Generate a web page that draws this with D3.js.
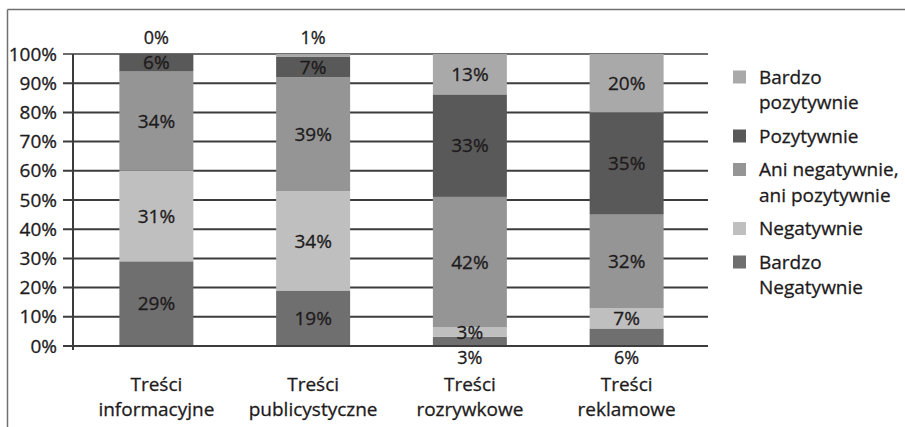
<!DOCTYPE html>
<html>
<head>
<meta charset="utf-8">
<script src="https://cdn.jsdelivr.net/npm/d3@7"></script>
<style>
  html, body { margin: 0; padding: 0; background: #fff; }
  svg { display: block; font-family: "Open Sans", "Noto Sans", sans-serif; }
  text { stroke: #1e1b1c; stroke-width: 0.3px; }
</style>
</head>
<body>
<svg id="chart" width="905" height="427"></svg>
<script>
// Categories (x axis) and series, bottom of the stack first
const categories = ["Treści informacyjne", "Treści publicystyczne", "Treści rozrywkowe", "Treści reklamowe"];
const seriesNames = ["Bardzo\nNegatywnie", "Negatywnie", "Ani negatywnie,\nani pozytywnie", "Pozytywnie", "Bardzo\npozytywnie"];
const seriesColors = ["#6f6f6f", "#bfbfbf", "#959595", "#595959", "#a9a9a9"];

// Shares in percent per category
const bardzoNegatywnie = [29, 19, 3, 6];
const negatywnie       = [31, 34, 3, 7];
const aniAni           = [34, 39, 42, 32];
const pozytywnie       = [6, 7, 33, 35];
const bardzoPozytywnie = [0, 1, 13, 20];

const yTicks = [0, 0.1, 0.2, 0.3, 0.4, 0.5, 0.6, 0.7, 0.8, 0.9, 1];

const seriesValues = [bardzoNegatywnie, negatywnie, aniAni, pozytywnie, bardzoPozytywnie];
const keys = seriesNames.map((_, i) => "s" + i);
const rows = categories.map((c, ci) => {
  const r = { category: c };
  keys.forEach((k, si) => { r[k] = seriesValues[si][ci]; });
  return r;
});

const svg = d3.select("#chart");
const textColor = "#1e1b1c";

// Outer frame (top and left edges)
svg.append("line").attr("x1", 7.5).attr("x2", 905).attr("y1", 9.5).attr("y2", 9.5)
  .attr("stroke", "#707070").attr("stroke-width", 1.5);
svg.append("line").attr("x1", 7.5).attr("x2", 7.5).attr("y1", 9.5).attr("y2", 427)
  .attr("stroke", "#707070").attr("stroke-width", 1.5);

const x = d3.scaleBand().domain(categories).range([78, 705]).paddingInner(0.528).paddingOuter(0.264);
const y = d3.scaleLinear().domain([0, 1]).range([346, 54]);

// Gridlines with left ticks
const grid = svg.append("g");
grid.selectAll("line").data(yTicks).join("line")
  .attr("x1", 63).attr("x2", 708)
  .attr("y1", d => y(d)).attr("y2", d => y(d))
  .attr("stroke", "#3c3c3c").attr("stroke-width", d => d === 1 ? 1.5 : 2);

// Y axis labels
const yAxis = d3.axisLeft(y).tickValues(yTicks).tickFormat(d3.format(".0%")).tickSize(0).tickPadding(6);
const ya = svg.append("g").attr("transform", "translate(63,0)").call(yAxis);
ya.select(".domain").remove();
ya.selectAll("text").attr("font-size", 19).attr("fill", textColor)
  .attr("font-family", "'Open Sans', sans-serif");

// Stacked bars normalised to 100%
const stack = d3.stack().keys(keys).offset(d3.stackOffsetExpand);
const layers = stack(rows);

const barG = svg.append("g");
layers.forEach((layer, si) => {
  barG.append("g").attr("fill", seriesColors[si])
    .selectAll("rect").data(layer).join("rect")
    .attr("x", d => x(d.data.category))
    .attr("width", x.bandwidth())
    .attr("y", d => y(d[1]))
    .attr("height", d => Math.max(0, y(d[0]) - y(d[1])));
});

// Y axis line and baseline
svg.append("line").attr("x1", 73).attr("x2", 73).attr("y1", 54).attr("y2", 350)
  .attr("stroke", "#3c3c3c").attr("stroke-width", 2);
svg.append("line").attr("x1", 63).attr("x2", 708).attr("y1", y(0)).attr("y2", y(0))
  .attr("stroke", "#3c3c3c").attr("stroke-width", 2);

// Value labels: inside the segment, or outside the bar when the end segment is too thin
const labelG = svg.append("g").attr("fill", textColor).attr("text-anchor", "middle");
layers.forEach((layer, si) => {
  layer.forEach(d => {
    const v = d.data[keys[si]];
    const cx = x(d.data.category) + x.bandwidth() / 2;
    const h = y(d[0]) - y(d[1]);
    let cy = (y(d[0]) + y(d[1])) / 2;
    let size = 19;
    if (si === keys.length - 1 && h < 10) { cy = y(1) - 16; size = 18; }
    else if (si === 0 && h < 20) { cy = y(0) + 12; size = 18; }
    labelG.append("text").attr("x", cx).attr("y", cy).attr("dy", "0.35em")
      .attr("font-size", size).text(v + "%");
  });
});

// Category labels on two lines
const catG = svg.append("g").attr("font-size", 19).attr("fill", textColor).attr("text-anchor", "middle");
categories.forEach(c => {
  const parts = c.split(" ");
  const t = catG.append("text").attr("x", x(c) + x.bandwidth() / 2).attr("y", 384);
  parts.forEach((p, i) => {
    t.append("tspan").attr("x", x(c) + x.bandwidth() / 2).attr("dy", i === 0 ? "0.35em" : 25).text(p);
  });
});

// Legend, top series first
const legendG = svg.append("g").attr("font-size", 19).attr("fill", textColor);
let ly = 77;
for (let si = seriesNames.length - 1; si >= 0; si--) {
  const lines = seriesNames[si].split("\n");
  legendG.append("rect").attr("x", 733).attr("y", ly - 6.5).attr("width", 13).attr("height", 13)
    .attr("fill", seriesColors[si]);
  const t = legendG.append("text").attr("x", 759).attr("y", ly);
  lines.forEach((ln, i) => {
    t.append("tspan").attr("x", 759).attr("dy", i === 0 ? "0.35em" : 25.5).text(ln);
  });
  ly += lines.length * 25.5 + 8;
}
</script>
</body>
</html>
